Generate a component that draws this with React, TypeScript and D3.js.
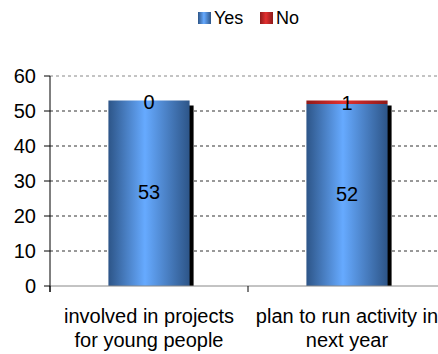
import React from "react";
import * as d3 from "d3";

const categories = [["involved in projects", "for young people"], ["plan to run activity in", "next year"]];
const yesValues = [53, 52];
const noValues = [0, 1];
const yTicks = [0, 10, 20, 30, 40, 50, 60];

export default function App() {
  const W = 438, H = 354;
  const left = 50, right = 446, top = 76, bottom = 286;
  const x = d3.scaleBand<number>().domain([0, 1]).range([left, right]).paddingInner(0.59).paddingOuter(0.295);
  const y = d3.scaleLinear().domain([0, 60]).range([bottom, top]);
  const font = "Liberation Sans, Arial, sans-serif";
  return (
    <svg width={W} height={H} style={{ position: "absolute", left: 0, top: 0 }}>
      <defs>
        <linearGradient id="blue" x1="0" x2="1" y1="0" y2="0">
          <stop offset="0" stopColor="#2d5588" />
          <stop offset="0.45" stopColor="#66aaff" />
          <stop offset="1" stopColor="#2d5588" />
        </linearGradient>
        <linearGradient id="red" x1="0" x2="1" y1="0" y2="0">
          <stop offset="0" stopColor="#8e1a1a" />
          <stop offset="0.45" stopColor="#e33030" />
          <stop offset="1" stopColor="#8e1a1a" />
        </linearGradient>
      </defs>
      <rect width={W} height={H} fill="#fff" />
      {yTicks.filter(t => t > 0).map(t => (
        <line key={t} x1={left} x2={W} y1={y(t)} y2={y(t)} stroke={t === 60 ? "#888" : "#333"} strokeWidth={1} strokeDasharray="3,3" />
      ))}
      {yTicks.map(t => (
        <g key={"t" + t}>
          <line x1={left - 6} x2={left} y1={y(t)} y2={y(t)} stroke="#000" />
          <text x={left - 14} y={y(t)} dy="0.35em" textAnchor="end" fontFamily={font} fontSize={20} fill="#000">{t}</text>
        </g>
      ))}
      {[0, 1].map(i => {
        const bx = x(i)!, bw = x.bandwidth();
        const total = yesValues[i] + noValues[i];
        return (
          <g key={"b" + i}>
            <rect x={bx + 4} y={y(total) + 5} width={bw} height={bottom - y(total) - 5} fill="#000" />
            <rect x={bx} y={y(yesValues[i])} width={bw} height={bottom - y(yesValues[i])} fill="url(#blue)" />
            {noValues[i] > 0 && (
              <rect x={bx} y={y(total)} width={bw} height={y(yesValues[i]) - y(total)} fill="url(#red)" />
            )}
            <text x={bx + bw / 2} y={y(yesValues[i] / 2) - 1} dy="0.35em" textAnchor="middle" fontFamily={font} fontSize={20} fill="#000">{yesValues[i]}</text>
            <text x={bx + bw / 2} y={y(yesValues[i] + noValues[i] / 2) + 1} dy="0.35em" textAnchor="middle" fontFamily={font} fontSize={20} fill="#000">{noValues[i]}</text>
          </g>
        );
      })}
      <line x1={left} x2={W} y1={bottom} y2={bottom} stroke="#888" strokeWidth={1} />
      <line x1={left} x2={left} y1={top} y2={bottom + 6} stroke="#000" />
      {[left, (left + right) / 2].map((t, k) => (
        <line key={"c" + k} x1={t} x2={t} y1={bottom} y2={bottom + 6} stroke="#000" />
      ))}
      {categories.map((lines, i) => (
        <text key={"l" + i} x={x(i)! + x.bandwidth() / 2} y={323} textAnchor="middle" fontFamily={font} fontSize={20} fill="#000">
          {lines.map((ln, j) => (
            <tspan key={j} x={x(i)! + x.bandwidth() / 2} dy={j === 0 ? 0 : 24}>{ln}</tspan>
          ))}
        </text>
      ))}
      <rect x={198} y={12} width={13} height={12} fill="url(#blue)" />
      <text x={214} y={24} fontFamily={font} fontSize={18} fill="#000">Yes</text>
      <rect x={260} y={12} width={13} height={12} fill="url(#red)" />
      <text x={276} y={24} fontFamily={font} fontSize={18} fill="#000">No</text>
    </svg>
  );
}
